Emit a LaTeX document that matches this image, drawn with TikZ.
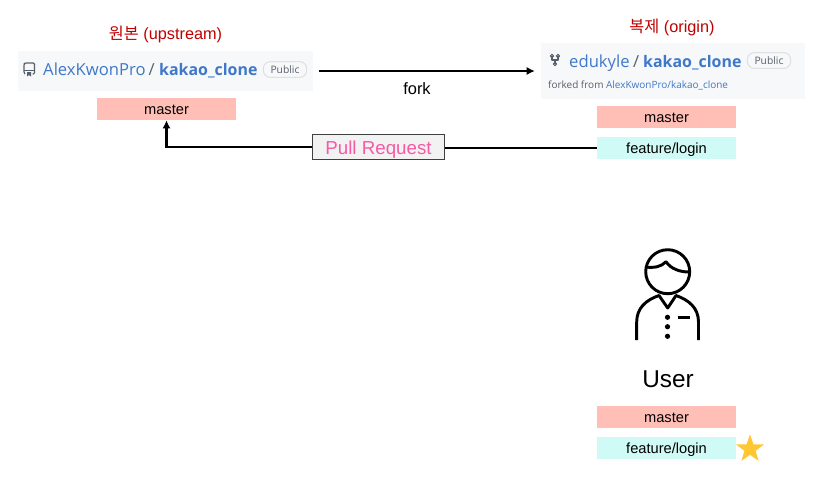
\documentclass[tikz,border=0pt]{standalone}
\usepackage{fontspec}
\setmainfont{Liberation Sans}
\newfontfamily\krfont{Noto Sans CJK KR}
\newfontfamily\hubfont{Open Sans}
\usetikzlibrary{positioning,arrows.meta,shapes.geometric}

% Define colors
\definecolor{titlered}{RGB}{192, 0, 0}
\definecolor{masterpink}{RGB}{255, 191, 183}
\definecolor{featurecyan}{RGB}{207, 250, 245}
\definecolor{hubpanel}{RGB}{246, 248, 250}
\definecolor{hubblue}{RGB}{64, 120, 200}
\definecolor{hubgray}{RGB}{87, 96, 106}
\definecolor{pullpink}{RGB}{245, 90, 165}
\definecolor{pullfill}{RGB}{242, 242, 242}
\definecolor{stargold}{RGB}{255, 200, 50}

\tikzset{
  branchbox/.style={minimum width=118.6pt, minimum height=18.8pt, inner sep=0pt, text height=9.5pt, text depth=0pt, font=\fontsize{12.5}{14}\selectfont},
  masterbox/.style={branchbox, fill=masterpink},
  featurebox/.style={branchbox, fill=featurecyan},
  panel/.style={fill=hubpanel, inner sep=0pt},
  title/.style={text=titlered, inner sep=0pt, font=\fontsize{13.9}{16}\selectfont},
  hubname/.style={inner sep=0pt, anchor=base west, text=hubblue, font=\hubfont\fontsize{14.2}{16}\selectfont},
  hubrepo/.style={hubname, font=\hubfont\fontsize{13.6}{16}\selectfont},
  publicbadge/.style={draw=black!12, line width=0.9pt, rounded corners=6pt, text=hubgray, inner sep=0pt, minimum width=37pt, minimum height=13.5pt, font=\hubfont\fontsize{8.8}{10}\selectfont},
  flow/.style={line width=2.1pt, black},
  flowtip/.style={flow, -{Latex[length=7pt,width=7pt]}},
  icon/.style={line width=2.5pt, black, line join=round},
  smallicon/.style={line width=1pt, hubgray, line join=round}
}

\begin{document}
\begin{tikzpicture}[x=0.03cm, y=-0.03cm]

	\useasboundingbox (0,0) rectangle (813,490);

	% Upstream side
	\node[panel, minimum width=251.8pt, minimum height=34.1pt] (upstream) at (165.5,71) {};
	\node[title] (upstreamtitle) at (165.5,34.5) {{\krfont 원본} (upstream)};
	\node[hubname] (upowner) at (43,75.5) {AlexKwonPro};
	\node[hubname, text=hubgray] (upslash) at (148.5,75.5) {/};
	\node[hubrepo] (uprepo) at (159,75.5) {\textbf{kakao\_clone}};
	\node[publicbadge] (uppublic) at (285,69.5) {Public};
	\node[masterbox] (upmaster) at (166.5,109) {master};
	\draw[smallicon, rounded corners=1pt] (25,74) -- (24,73) -- (24,64) -- (25,63) -- (34.5,63) -- (34.5,74) -- (32.5,74);
	\draw[smallicon] (24,70.5) -- (34.5,70.5);
	\fill[hubgray] (27,72) -- (31,72) -- (31,76.5) -- (29,75) -- (27,76.5) -- cycle;

	% Origin side
	\node[panel, minimum width=225.3pt, minimum height=48.6pt] (origin) at (673,71) {};
	\node[title] (origintitle) at (672,27.5) {{\krfont 복제} (origin)};
	\node[hubname] (orowner) at (569,67.5) {edukyle};
	\node[hubname, text=hubgray] (orslash) at (633,67.5) {/};
	\node[hubrepo] (orrepo) at (643,67.5) {\textbf{kakao\_clone}};
	\node[publicbadge] (orpublic) at (769,60.5) {Public};
	\node[inner sep=0pt, anchor=base west, text=hubgray, font=\hubfont\fontsize{8.5}{10}\selectfont] (forkedfrom) at (548,88.5) {forked from \textcolor{hubblue}{AlexKwonPro/kakao\_clone}};
	\draw[smallicon] (552,56) -- (552,60) -- (558,60) -- (558,56) (555,60) -- (555,64);
	\foreach \px/\py in {552/56, 558/56, 555/64}
		\draw[smallicon] (\px,\py) circle (1.6);
	\node[masterbox] (ormaster) at (666.5,117) {master};
	\node[featurebox] (orfeature) at (666.5,148) {feature/login};

	% Connectors
	\node[draw=black!75, line width=0.9pt, fill=pullfill, text=pullpink, minimum width=113pt, minimum height=21.8pt, inner sep=0pt, text height=12pt, text depth=0pt, font=\fontsize{16}{18}\selectfont] (pullrequest) at (378.5,147) {Pull Request};
	\draw[flowtip, shorten <=5.1pt, shorten >=5.1pt] (upstream.east) -- (origin.west);
	\node[inner sep=0pt, font=\fontsize{14}{16}\selectfont] (forklabel) at (417,89) {fork};
	\draw[flow] (orfeature.west) -- (orfeature.west -| pullrequest.east);
	\draw[flowtip] (pullrequest.west) -| (upmaster.south);

	% User
	\draw[icon] (667.7,271.7) circle (22);
	\draw[icon] (645.7,267) .. controls (654,268) and (661,267) .. (666,261.7) .. controls (671,269) and (680,272) .. (689,272);
	\draw[icon] (636.7,340) -- (636.7,322) .. controls (636.7,308) and (646,300) .. (659,295.5) -- (667.7,308) -- (676,295.5) .. controls (689,300) and (698.5,308) .. (698.5,322) -- (698.5,340);
	\draw[icon] (677.7,317.3) -- (689.5,317.3);
	\foreach \py in {317.3, 326.7, 336.3}
		\fill (667.5,\py) circle (2.6);
	\node[inner sep=0pt, font=\fontsize{20.8}{24}\selectfont] (username) at (668,379.5) {User};
	\node[masterbox] (usermaster) at (666.5,417) {master};
	\node[featurebox] (userfeature) at (666.5,448) {feature/login};
	\node[star, star points=5, star point ratio=2.5, fill=stargold, minimum size=25pt, inner sep=0pt] (userstar) at (750,449) {};

\end{tikzpicture}
\end{document}
